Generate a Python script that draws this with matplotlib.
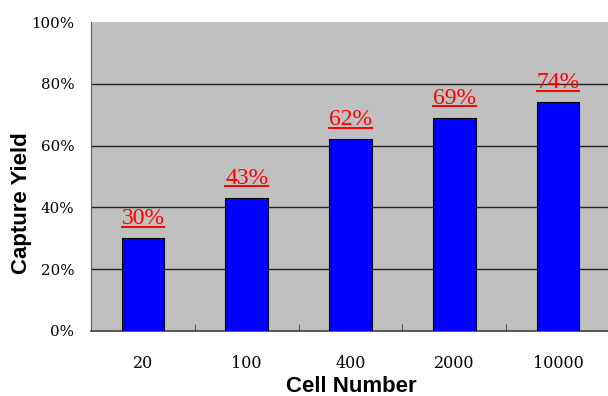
import matplotlib.pyplot as plt
import numpy as np

cells = ["20", "100", "400", "2000", "10000"]
yield_pct = [30, 43, 62, 69, 74]
yticks = [0, 20, 40, 60, 80, 100]

fig = plt.figure(figsize=(6.08, 3.96), dpi=100)
ax = fig.add_axes([91 / 608, 65 / 396, 519 / 608, 309 / 396])
ax.set_facecolor("#c0c0c0")

x = np.arange(len(cells))
bar_w = 0.41
ax.bar(x, yield_pct, width=bar_w, color="#0000ff", edgecolor="black", linewidth=0.8, zorder=3)

# value labels, red and underlined
for xi, v in zip(x, yield_pct):
    ax.text(xi, v + 4.6, f"{v}%", color="red", fontsize=17, family="Liberation Serif",
            ha="center", va="baseline", zorder=4)
    ax.plot([xi - bar_w / 2, xi + bar_w / 2], [v + 3.8, v + 3.8], color="red", lw=1.4, zorder=4)

ax.set_xlim(-0.5, len(cells) - 0.5)
ax.set_ylim(0, 100)
ax.set_yticks(yticks)
ax.set_yticklabels([f"{t}%" for t in yticks], family="DejaVu Serif", fontsize=10.8)
ax.set_xticks(x)
ax.set_xticklabels(cells, family="DejaVu Serif", fontsize=11.5)
ax.tick_params(axis="x", length=0, pad=17)
ax.tick_params(axis="y", length=0, pad=12)
# tick marks between categories
ax.set_xticks(x[:-1] + 0.5, minor=True)
ax.tick_params(axis="x", which="minor", direction="in", length=5, color="#404040")

for g in yticks[1:-1]:
    ax.axhline(g, color="#222222", lw=1, zorder=1)

for s in ["top", "right"]:
    ax.spines[s].set_visible(False)
ax.spines["left"].set_color("#606060")
ax.spines["bottom"].set_color("#404040")
ax.spines["bottom"].set_linewidth(1.2)

fig.text(351 / 608, 1 - 387 / 396, "Cell Number", family="Liberation Sans", fontweight="bold",
         fontsize=16, ha="center", va="center")
fig.text(21 / 608, 1 - 203 / 396, "Capture Yield", family="Liberation Sans", fontweight="bold",
         fontsize=16, ha="center", va="center", rotation=90)

fig.savefig("out.png", dpi=100)
